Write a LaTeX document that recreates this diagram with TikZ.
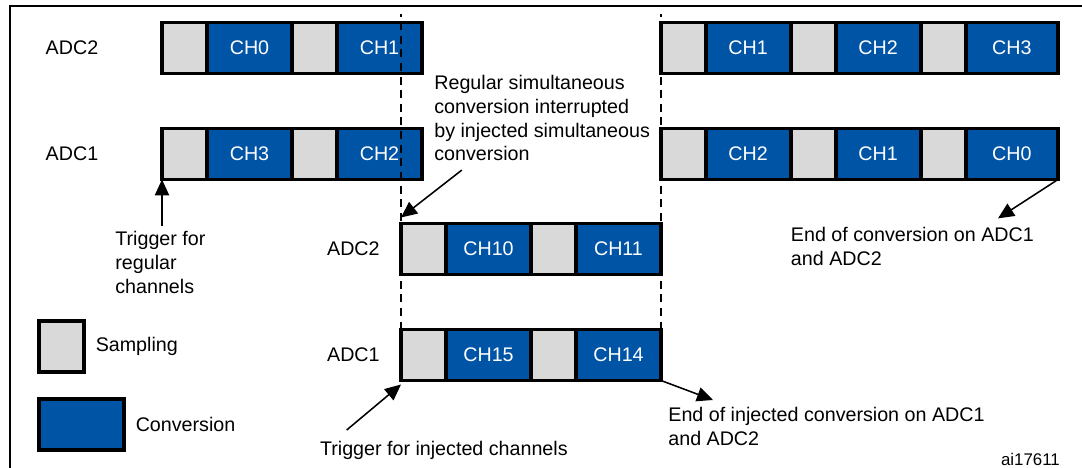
\documentclass[tikz,border=0pt]{standalone}
\usepackage{fontspec}
\setmainfont{Liberation Sans}
\usetikzlibrary{positioning,arrows.meta}
\definecolor{convblue}{RGB}{0,84,166}
\definecolor{samplegray}{RGB}{217,217,217}

\begin{document}
\begin{tikzpicture} [node distance=1.625cm, every node/.style={font=\fontsize{14}{17}\selectfont}, sampbox/.style={rectangle, draw, line width=2.8pt, fill=samplegray, minimum width=1.125cm, minimum height=1.275cm, inner sep=0pt, outer sep=0pt}, convbox/.style={sampbox, fill=convblue, text=white, minimum width=2.125cm}, note/.style={align=left, anchor=north west}, pointer/.style={-{Triangle[length=0.4cm,width=0.36cm]}, line width=1.1pt}, cut/.style={line width=1pt, dash pattern=on 0.2cm off 0.14cm}]
  \useasboundingbox (0,0) rectangle (27.05,-11.7);
  %% Frame
  \draw [line width=1.4pt] (27.05,-0.14) -- (0.25,-0.14) -- (0.25,-11.7);
  \coordinate (top) at (0,-0.35);
  %% Regular conversion, before the injected one
  \node [sampbox] (a2s0) at (4.6125,-1.2) {};
  \node [convbox, right of=a2s0] (a2ch0) {CH0};
  \node [sampbox, right of=a2ch0] (a2s1) {};
  \node [convbox, right of=a2s1] (a2ch1) {CH1};
  \node [left=1.47cm of a2s0] (a2name) {ADC2};
  \node [sampbox] (a1s3) at (4.6125,-3.85) {};
  \node [convbox, right of=a1s3] (a1ch3) {CH3};
  \node [sampbox, right of=a1ch3] (a1s2) {};
  \node [convbox, right of=a1s2] (a1ch2) {CH2};
  \node [left=1.47cm of a1s3] (a1name) {ADC1};
  %% Regular conversion, resumed
  \node [sampbox] (b2s1) at (17.0775,-1.2) {};
  \node [convbox, right of=b2s1] (b2ch1) {CH1};
  \node [sampbox, right of=b2ch1] (b2s2) {};
  \node [convbox, right of=b2s2] (b2ch2) {CH2};
  \node [sampbox, right of=b2ch2] (b2s3) {};
  \node [convbox, right of=b2s3, minimum width=2.31cm, node distance=1.7175cm] (b2ch3) {CH3};
  \node [sampbox] (b1s2) at (17.0775,-3.85) {};
  \node [convbox, right of=b1s2] (b1ch2) {CH2};
  \node [sampbox, right of=b1ch2] (b1s1) {};
  \node [convbox, right of=b1s1] (b1ch1) {CH1};
  \node [sampbox, right of=b1ch1] (b1s0) {};
  \node [convbox, right of=b1s0, minimum width=2.31cm, node distance=1.7175cm] (b1ch0) {CH0};
  %% Injected conversion
  \node [sampbox] (j2s10) at (10.5875,-6.225) {};
  \node [convbox, right of=j2s10] (j2ch10) {CH10};
  \node [sampbox, right of=j2ch10] (j2s11) {};
  \node [convbox, right of=j2s11] (j2ch11) {CH11};
  \node [left=0.41cm of j2s10] (j2name) {ADC2};
  \node [sampbox] (j1s15) at (10.5875,-8.875) {};
  \node [convbox, right of=j1s15] (j1ch15) {CH15};
  \node [sampbox, right of=j1ch15] (j1s14) {};
  \node [convbox, right of=j1s14] (j1ch14) {CH14};
  \node [left=0.41cm of j1s15] (j1name) {ADC1};
  %% Legend
  \node [sampbox] (legsamp) at (1.5375,-8.66) {};
  \node [right=0.17cm of legsamp] (sampname) {Sampling};
  \node [convbox] (legconv) at (2.0375,-10.61) {};
  \node [right=0.17cm of legconv] (convname) {Conversion};
  %% Notes
  \node [note] (trigreg) at (2.76,-5.66) {Trigger for\\regular\\channels};
  \node [note] (intr) at (10.735,-1.75) {Regular simultaneous\\conversion interrupted\\by injected simultaneous\\conversion};
  \node [note] (eoc) at (19.65,-5.56) {End of conversion on ADC1\\and ADC2};
  \node [note] (eoi) at (16.585,-10.06) {End of injected conversion on ADC1\\and ADC2};
  \node [note] (trigin) at (7.8775,-10.91) {Trigger for injected channels};
  \node [anchor=base east, font=\fontsize{12}{14}\selectfont] (figid) at (26.62,-11.63) {ai17611};
  % Draw dashed cuts
  \draw [cut] (j1s15.north west) -- (j1s15.north west |- top);
  \draw [cut] (j1ch14.north east) -- (j1ch14.north east |- top);
  % Draw arrows
  \draw [pointer] (trigreg.north -| a1s3.south west) -- (a1s3.south west);
  \draw [pointer] ([xshift=0.81cm,yshift=-0.1cm]intr.south west) -- ([yshift=0.15cm]j2s10.north west);
  \draw [pointer] (b1ch0.south east) -- ([xshift=5.3cm,yshift=0.1cm]eoc.north west);
  \draw [pointer] (j1ch14.south east) -- ([xshift=1.24cm,yshift=0.06cm]eoi.north west);
  \draw [pointer] ([xshift=0.79cm,yshift=0.16cm]trigin.north west) -- ([yshift=-0.1cm]j1s15.south west);
\end{tikzpicture}
\end{document}
